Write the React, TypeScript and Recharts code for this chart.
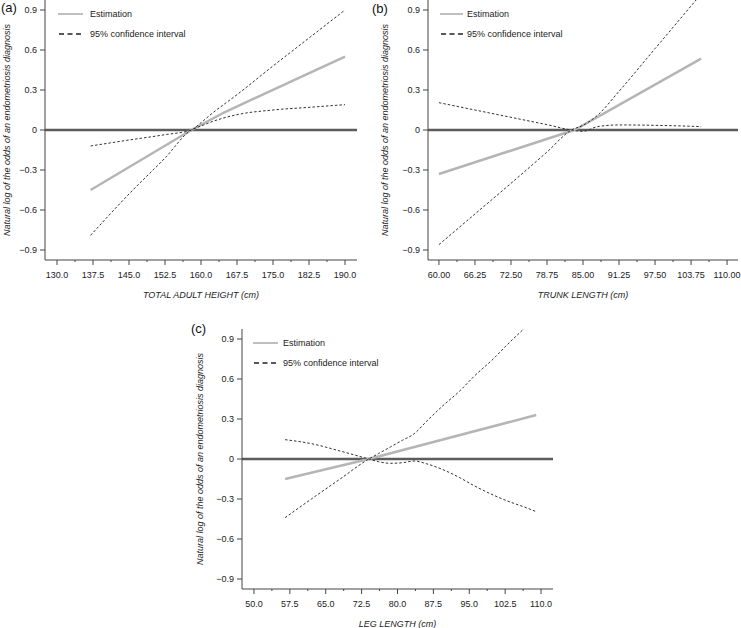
import React from "react";
import { LineChart, Line, XAxis, YAxis, ReferenceLine, Legend, Label } from "recharts";

const FONT = "'Liberation Sans', Arial, sans-serif";

const yTicks = [-0.9, -0.6, -0.3, 0, 0.3, 0.6, 0.9];
const yLabel = "Natural log of the odds of an endometriosis diagnosis";

// (a) total adult height
const heightTicks = [130, 137.5, 145, 152.5, 160, 167.5, 175, 182.5, 190];
const heightEstX = [137, 158, 165, 190];
const heightEstY = [-0.45, 0, 0.135, 0.55];
const heightCiX = [137, 145, 152.5, 158, 160, 162.5, 167.5, 175, 182.5, 190];
const heightCiA = [-0.12, -0.075, -0.035, 0, 0.055, 0.13, 0.265, 0.48, 0.69, 0.9];
const heightCiB = [-0.79, -0.48, -0.21, 0, 0.03, 0.065, 0.115, 0.15, 0.17, 0.19];

// (b) trunk length
const trunkTicks = [60, 66.25, 72.5, 78.75, 85, 91.25, 97.5, 103.75, 110];
const trunkEstX = [60, 83.5, 105.5];
const trunkEstY = [-0.33, 0, 0.535];
const trunkCiX = [60, 66.25, 72.5, 78.75, 83, 85, 87.5, 91.25, 97.5, 103.75, 105.5];
const trunkCiA = [-0.86, -0.63, -0.4, -0.165, 0, 0.035, 0.11, 0.29, 0.61, 0.93, 1.02];
const trunkCiB = [0.205, 0.15, 0.095, 0.04, 0, -0.01, 0.025, 0.038, 0.035, 0.028, 0.025];

// (c) leg length
const legTicks = [50, 57.5, 65, 72.5, 80, 87.5, 95, 102.5, 110];
const legEstX = [56.5, 74, 109];
const legEstY = [-0.15, 0, 0.33];
const legCiX = [56.5, 62, 68, 74, 76, 78.5, 81, 83.5, 86, 89.5, 93, 96, 100, 103, 106.5, 109];
const legCiA = [-0.44, -0.3, -0.15, 0, 0.04, 0.09, 0.14, 0.19, 0.28, 0.4, 0.51, 0.62, 0.75, 0.86, 0.98, 1.07];
const legCiB = [0.145, 0.115, 0.06, 0, -0.02, -0.032, -0.028, -0.015, -0.035, -0.08, -0.14, -0.2, -0.27, -0.315, -0.36, -0.395];

const rows = (xs, ys) => xs.map((x, i) => ({ x, y: ys[i] }));

const panels = [
  {
    id: "(a)", letter: { left: 1, top: 0 },
    left: 0, top: 0, width: 370, height: 310, mTop: 0, mRight: 13, yw: 45, xh: 50,
    domain: [127.5, 192.5], ticks: heightTicks, dec: 1, yLabelX: 7,
    title: "TOTAL ADULT HEIGHT (cm)",
    legend: { left: 58, top: 4, line: 25, gap: 32 },
    est: rows(heightEstX, heightEstY), ciA: rows(heightCiX, heightCiA), ciB: rows(heightCiX, heightCiB),
  },
  {
    id: "(b)", letter: { left: 372, top: 1 },
    left: 370, top: 0, width: 371, height: 310, mTop: 0, mRight: 3, yw: 58, xh: 50,
    domain: [58.1, 111.9], ticks: trunkTicks, dec: 2, yLabelX: 15,
    title: "TRUNK LENGTH (cm)",
    legend: { left: 70, top: 4, line: 23, gap: 27 },
    est: rows(trunkEstX, trunkEstY), ciA: rows(trunkCiX, trunkCiA), ciB: rows(trunkCiX, trunkCiB),
  },
  {
    id: "(c)", letter: { left: 191, top: 321 },
    left: 185, top: 310, width: 371, height: 318, mTop: 19, mRight: 3, yw: 57, xh: 39,
    domain: [47.5, 112.5], ticks: legTicks, dec: 1, yLabelX: 15,
    title: "LEG LENGTH (cm)",
    legend: { left: 68, top: 23, line: 25, gap: 30 },
    est: rows(legEstX, legEstY), ciA: rows(legCiX, legCiA), ciB: rows(legCiX, legCiB),
  },
];

const fmtY = (v) => (v === 0 ? "0" : v < 0 ? "\u2212" + Math.abs(v).toFixed(1) : v.toFixed(1));

function Panel({ p }) {
  const minor = p.ticks.slice(0, -1).map((t, i) => (t + p.ticks[i + 1]) / 2);
  const allTicks = [...p.ticks, ...minor].sort((a, b) => a - b);
  const plotLeft = p.yw;
  const plotRight = p.width - p.mRight;
  const plotTop = p.mTop;
  const plotBottom = p.height - p.xh;
  const cx = (plotLeft + plotRight) / 2;
  const cy = (plotTop + plotBottom) / 2;

  const xTick = (props) => {
    const { x, y, payload } = props;
    const isMajor = p.ticks.includes(payload.value);
    return (
      <g>
        <line x1={x} x2={x} y1={y} y2={y + (isMajor ? 5 : 2)} stroke="#444" strokeWidth={1} />
        {isMajor && (
          <text x={x} y={y + 15} dy="0.35em" textAnchor="middle" fontSize={9} fill="#222" fontFamily={FONT}>
            {payload.value.toFixed(p.dec)}
          </text>
        )}
      </g>
    );
  };

  const legendContent = () => (
    <div style={{ fontFamily: FONT, fontSize: 9, color: "#222" }}>
      <div style={{ display: "flex", alignItems: "center", height: 20 }}>
        <svg width={p.legend.gap} height={20}>
          <line x1={0} x2={p.legend.line} y1={10} y2={10} stroke="#aaa" strokeWidth={1.5} />
        </svg>
        <span>Estimation</span>
      </div>
      <div style={{ display: "flex", alignItems: "center", height: 20 }}>
        <svg width={p.legend.gap} height={20}>
          <line x1={1} x2={p.legend.line} y1={10} y2={10} stroke="#222" strokeWidth={1.3} strokeDasharray="5 3.5" />
        </svg>
        <span>95% confidence interval</span>
      </div>
    </div>
  );

  return (
    <div style={{ position: "absolute", left: p.left, top: p.top }}>
      <LineChart width={p.width} height={p.height} margin={{ top: p.mTop, right: p.mRight, bottom: 0, left: 0 }}>
        <XAxis
          type="number"
          dataKey="x"
          domain={p.domain}
          ticks={allTicks}
          interval={0}
          allowDataOverflow
          tickSize={0}
          tickMargin={0}
          tickLine={false}
          tick={xTick}
          height={p.xh}
          axisLine={{ stroke: "#444", strokeWidth: 1 }}
        >
          <Label
            content={() => (
              <text x={cx} y={plotBottom + 35} dy="0.35em" textAnchor="middle" fontSize={9} fontStyle="italic" fill="#222" fontFamily={FONT}>
                {p.title}
              </text>
            )}
          />
        </XAxis>
        <YAxis
          type="number"
          domain={[-0.975, 0.975]}
          ticks={yTicks}
          interval={0}
          allowDataOverflow
          width={p.yw}
          tickSize={5}
          tickMargin={3}
          tickFormatter={fmtY}
          tick={{ fontSize: 9, fill: "#222", fontFamily: FONT }}
          tickLine={{ stroke: "#444" }}
          axisLine={{ stroke: "#444", strokeWidth: 1 }}
        >
          <Label
            content={() => (
              <text
                x={p.yLabelX}
                y={cy}
                dy="0.35em"
                textAnchor="middle"
                transform={`rotate(-90 ${p.yLabelX} ${cy})`}
                fontSize={9}
                fontStyle="italic"
                fill="#222"
                fontFamily={FONT}
              >
                {yLabel}
              </text>
            )}
          />
        </YAxis>
        <ReferenceLine y={0} stroke="#5c5c5c" strokeWidth={2.5} />
        <Legend
          layout="vertical"
          align="center"
          verticalAlign="middle"
          content={legendContent}
          wrapperStyle={{ left: p.legend.left, top: p.legend.top, width: 200, height: 40 }}
        />
        <Line data={p.est} dataKey="y" type="linear" stroke="#b5b5b5" strokeWidth={2.5} dot={false} isAnimationActive={false} />
        <Line data={p.ciA} dataKey="y" type="monotone" stroke="#333" strokeWidth={1} strokeDasharray="2.5 2" dot={false} isAnimationActive={false} />
        <Line data={p.ciB} dataKey="y" type="monotone" stroke="#333" strokeWidth={1} strokeDasharray="2.5 2" dot={false} isAnimationActive={false} />
      </LineChart>
    </div>
  );
}

export default function App() {
  return (
    <div style={{ position: "fixed", left: 0, top: 0, width: 741, height: 628, overflow: "hidden", background: "#fff", fontFamily: FONT }}>
      {panels.map((p) => (
        <Panel key={p.id} p={p} />
      ))}
      {panels.map((p) => (
        <div key={p.id + "l"} style={{ position: "absolute", left: p.letter.left, top: p.letter.top, fontSize: 13, color: "#111", lineHeight: "16px" }}>
          {p.id}
        </div>
      ))}
    </div>
  );
}
